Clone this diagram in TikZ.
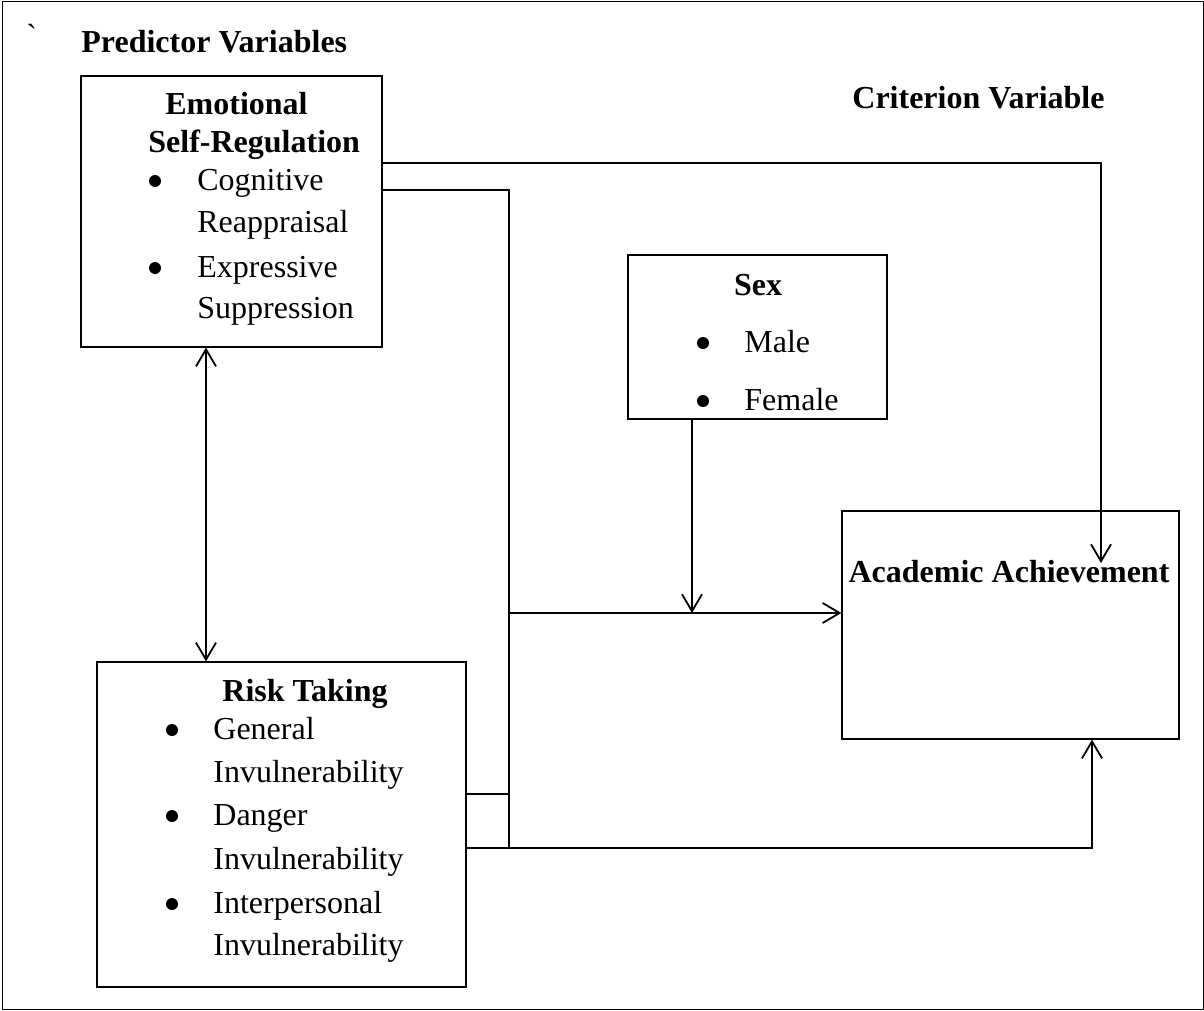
\documentclass[tikz,border=0pt]{standalone}
\usepackage{fontspec}
\setmainfont{Liberation Serif}
\usepackage{tikz}
\usetikzlibrary{arrows.meta,calc}

\begin{document}
\begin{tikzpicture}[x=0.5pt,y=-0.5pt,font=\fontsize{16}{19}\selectfont]
            \tikzset{box/.style = {draw, line width=0.6pt, inner sep=0pt}}
            \tikzset{txt/.style = {inner sep=0pt, anchor=base west}}
            \tikzset{head/.style = {inner sep=0pt, anchor=base}}
            \tikzset{dot/.style = {circle, fill, inner sep=0pt, minimum size=6pt}}
            \tikzset{edge/.style = {line width=0.9pt}}
            \tikzset{arr/.style = {edge, -{Straight Barb[length=8.5pt,width=10pt]}}}
            \tikzset{dbl/.style = {edge, {Straight Barb[length=8.5pt,width=10pt]}-{Straight Barb[length=8.5pt,width=10pt]}}}

            \useasboundingbox (0,0) rectangle (1204,1011);
            \draw[line width=0.5pt] (2,2) rectangle (1203,1009);

            % boxes
            \node[box, minimum width=150.5pt, minimum height=135.5pt] (esr) at (231.5,211.5) {};
            \node[box, minimum width=129.5pt, minimum height=82pt] (sex) at (757.5,337) {};
            \node[box, minimum width=168.5pt, minimum height=114pt] (aa) at (1010.5,625) {};
            \node[box, minimum width=184.5pt, minimum height=162.5pt] (rt) at (281.5,824.5) {};

            % headings
            \node[txt] (tick) at (26,47) {\textasciigrave};
            \node[txt] (pred) at (81,53) {\textbf{Predictor Variables}};
            \node[txt] (crit) at (852,109) {\textbf{Criterion Variable}};
            \node[txt] (esr1) at (165,115) {\textbf{Emotional}};
            \node[txt] (esr2) at (148,152) {\textbf{Self-Regulation}};
            \node[head] (sexhead) at (758,295) {\textbf{Sex}};
            \node[head] (aahead) at (1009,582) {\textbf{Academic Achievement}};
            \node[txt] (rthead) at (222,701) {\textbf{Risk Taking}};

            % items
            \foreach \t/\y [count=\i] in {Cognitive/190,Reappraisal/232,Expressive/277,Suppression/318}
            {
              \node[txt] (esrit\i) at (197,\y) {\t};
            }
            \foreach \t/\y [count=\i] in {Male/352,Female/410}
            {
              \node[txt] (sexit\i) at (744,\y) {\t};
              \node[dot] (sexdot\i) at (703,\y-9) {};
            }
            \foreach \t/\y [count=\i] in {General/739,Invulnerability/782,Danger/825,Invulnerability/869,Interpersonal/913,Invulnerability/955}
            {
              \node[txt] (rtit\i) at (213,\y) {\t};
            }
            \foreach \y [count=\i] in {190,277} {\node[dot] (esrdot\i) at (155,\y-9) {};}
            \foreach \y [count=\i] in {739,825,913} {\node[dot] (rtdot\i) at (172,\y-9) {};}

            % joints
            \coordinate (toprow) at (1101,163);
            \coordinate (tip) at (1101,563);
            \coordinate (bustop) at (509,190);
            \coordinate (busmid) at (509,794);
            \coordinate (busbot) at (509,848);
            \coordinate (join) at (509,613);
            \coordinate (drop) at (692,613);
            \coordinate (rise) at (1092,848);
            \coordinate (link) at (206,500);

            % edges
            \draw[arr] (esr.east |- toprow) -- (toprow) -- (tip);
            \draw[edge] (esr.east |- bustop) -- (bustop) -- (busbot);
            \draw[edge] (rt.east |- busmid) -- (busmid);
            \draw[arr] (rt.east |- busbot) -- (rise) -- (aa.south -| rise);
            \draw[arr] (join) -- (aa.west |- join);
            \draw[arr] (sex.south -| drop) -- (drop);
            \draw[dbl] (esr.south -| link) -- (rt.north -| link);

\end{tikzpicture}
\end{document}
